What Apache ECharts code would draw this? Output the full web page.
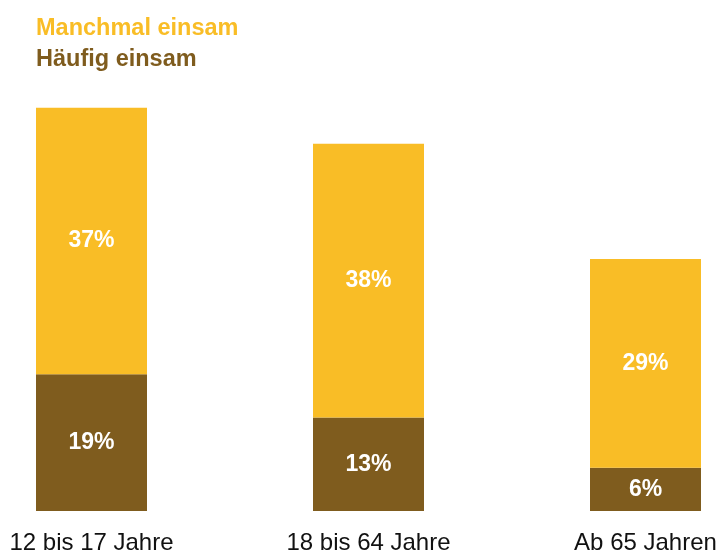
<!DOCTYPE html>
<html>
<head>
<meta charset="utf-8">
<script src="https://cdn.jsdelivr.net/npm/echarts@6/dist/echarts.min.js"></script>
<style>html,body{margin:0;padding:0;background:#fff}#c{width:718px;height:554px}</style>
</head>
<body>
<div id="c"></div>
<script>
const categories = ['12 bis 17 Jahre', '18 bis 64 Jahre', 'Ab 65 Jahren'];
const haeufig = [19, 13, 6];
const manchmal = [37, 38, 29];
const seriesNames = ['Manchmal einsam', 'Häufig einsam'];
const colYellow = '#F9BD26';
const colBrown = '#7F5C1E';

const chart = echarts.init(document.getElementById('c'), null, {renderer: 'canvas'});
const labelStyle = {
  show: true, position: 'inside', color: '#fff', fontWeight: 'bold', fontSize: 23,
  fontFamily: '"Liberation Sans", Arial, sans-serif', formatter: p => p.value + '%'
};
chart.setOption({
  animation: false,
  legend: {
    orient: 'vertical', left: 26, top: 12, itemWidth: 0, itemHeight: 0, itemGap: 6.5,
    selectedMode: false, icon: 'rect',
    textStyle: {fontSize: 23.5, fontWeight: 'bold', fontFamily: '"Liberation Sans", Arial, sans-serif'},
    data: [
      {name: seriesNames[0], textStyle: {color: colYellow}},
      {name: seriesNames[1], textStyle: {color: colBrown}}
    ]
  },
  grid: {left: 91.5, right: 72.5, top: 79, height: 432, containLabel: false, outerBoundsMode: 'none'},
  xAxis: {
    type: 'category', data: categories, boundaryGap: false,
    axisLine: {show: false}, axisTick: {show: false},
    axisLabel: {color: '#111', fontSize: 24, margin: 20,
      fontFamily: '"Liberation Sans", Arial, sans-serif'}
  },
  yAxis: {type: 'value', min: 0, max: 60, show: false, splitLine: {show: false}},
  series: [
    {name: seriesNames[1], type: 'bar', stack: 't', data: haeufig, barWidth: 111,
     itemStyle: {color: colBrown}, label: labelStyle},
    {name: seriesNames[0], type: 'bar', stack: 't', data: manchmal, barWidth: 111,
     itemStyle: {color: colYellow}, label: labelStyle}
  ]
});
</script>
</body>
</html>
